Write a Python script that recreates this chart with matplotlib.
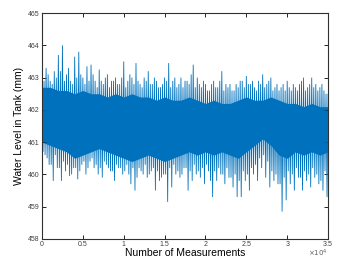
import numpy as np
import matplotlib
matplotlib.use("Agg")
import matplotlib.pyplot as plt

plt.rcParams['font.family'] = ['Liberation Sans', 'DejaVu Sans']

spike_x = np.arange(0, 35001, 500)
top_spikes = [463.0, 463.3, 462.9, 463.2, 463.7, 464.0, 463.1, 462.9, 463.65, 463.8,
              463.0, 463.35, 463.4, 462.9, 463.25, 462.8, 463.1, 462.9, 463.0, 462.8,
              463.5, 462.9, 463.0, 463.45, 462.8, 463.0, 463.2, 462.8, 462.9, 462.7,
              463.0, 463.45, 462.9, 462.7, 463.0, 462.9, 462.8, 463.4, 463.0, 462.7,
              462.8, 462.6, 462.9, 462.7, 463.2, 462.8, 462.8, 462.6, 462.7, 462.9,
              463.05, 462.8, 462.7, 462.9, 463.1, 462.8, 463.0, 462.7, 462.6, 462.8,
              462.9, 462.6, 462.7, 462.8, 463.0, 462.7, 463.0, 462.8, 462.7, 462.6,
              462.5]
bottom_spikes = [460.6, 460.3, 459.8, 460.2, 459.8, 460.1, 459.95, 460.2, 459.85, 460.3,
                 460.0, 460.4, 460.2, 460.0, 459.9, 460.3, 460.1, 459.8, 460.2, 460.0,
                 460.3, 459.7, 459.5, 460.2, 460.0, 459.9, 460.1, 459.5, 459.8, 460.0,
                 459.15, 459.6, 460.0, 459.9, 460.2, 459.5, 459.8, 460.0, 459.9, 459.7,
                 460.1, 459.3, 459.8, 460.0, 459.7, 459.9, 459.6, 459.3, 459.3, 459.8,
                 459.5, 460.0, 459.8, 460.2, 459.9, 459.6, 459.8, 459.7, 458.85, 459.2,
                 459.7, 459.5, 459.9, 459.5, 459.8, 459.6, 459.9, 459.7, 459.5, 459.3,
                 459.9]
# medium spikes in between
top_mid = [462.9, 463.1, 462.8, 463.0, 463.2, 462.9, 463.3, 462.8, 463.0, 463.1,
           462.8, 462.9, 463.1, 462.7, 462.9, 463.0, 462.7, 462.9, 462.8, 463.0,
           462.7, 463.1, 462.8, 462.9, 462.7, 462.9, 462.8, 463.0, 462.7, 462.8,
           462.9, 462.7, 463.0, 462.8, 462.7, 462.9, 463.1, 462.7, 462.8, 462.9,
           462.6, 462.8, 462.7, 462.9, 462.6, 462.7, 462.6, 462.8, 462.9, 462.7,
           462.8, 462.9, 462.6, 462.8, 462.7, 462.9, 462.6, 462.8, 462.7, 462.6,
           462.7, 462.8, 462.6, 462.9, 462.6, 462.8, 462.7, 462.6, 462.8, 462.5,
           462.6]
bottom_mid = [460.7, 460.5, 460.3, 460.6, 460.2, 460.4, 460.3, 460.0, 460.2, 460.1,
              460.4, 460.2, 460.5, 460.3, 460.2, 460.4, 460.2, 460.1, 460.3, 460.2,
              460.1, 460.0, 460.2, 459.9, 460.1, 460.3, 460.0, 460.2, 460.1, 459.9,
              460.0, 460.2, 460.3, 460.1, 460.0, 460.2, 460.1, 460.3, 460.1, 460.2,
              460.3, 459.8, 460.1, 460.2, 460.0, 460.2, 459.9, 460.0, 459.8, 460.1,
              460.0, 460.2, 460.3, 460.5, 460.6, 460.4, 460.1, 460.0, 459.7, 459.9,
              460.1, 460.0, 460.2, 459.9, 460.1, 460.0, 460.2, 460.0, 459.8, 460.1,
              460.2]

# dense core of the signal, every 1000 measurements
core_x = np.arange(0, 35001, 1000)
core_top = [462.7, 462.7, 462.6, 462.6, 462.5, 462.6, 462.5, 462.5, 462.4, 462.5,
            462.4, 462.5, 462.4, 462.4, 462.3, 462.4, 462.3, 462.3, 462.4, 462.3,
            462.2, 462.3, 462.2, 462.2, 462.3, 462.4, 462.3, 462.3, 462.4, 462.3,
            462.2, 462.2, 462.1, 462.2, 462.1, 462.1]
core_bottom = [461.0, 460.9, 460.8, 460.7, 460.5, 460.6, 460.7, 460.8, 460.7, 460.6,
               460.5, 460.4, 460.5, 460.6, 460.5, 460.4, 460.5, 460.6, 460.7, 460.6,
               460.7, 460.6, 460.7, 460.6, 460.5, 460.7, 460.9, 461.1, 460.9, 460.6,
               460.5, 460.7, 460.6, 460.7, 460.6, 460.7]

blue = '#0072BD'

fig = plt.figure(figsize=(3.48, 2.63), dpi=100)
ax = fig.add_axes([0.1207, 0.0913, 0.822, 0.859])

# zigzag line: top spike, lower mid, upper mid, bottom spike
n = len(spike_x)
zx = np.empty(4 * n)
zy = np.empty(4 * n)
zx[0::4] = spike_x
zx[1::4] = spike_x + 125
zx[2::4] = spike_x + 250
zx[3::4] = spike_x + 375
zy[0::4] = top_spikes
zy[1::4] = bottom_mid
zy[2::4] = top_mid
zy[3::4] = bottom_spikes
ax.fill_between(core_x, core_bottom, core_top, color=blue, lw=0)
ax.plot(zx, zy, color=blue, lw=0.6, solid_joinstyle='miter')

ax.set_xlim(0, 35000)
ax.set_ylim(458, 465)
ax.set_xticks(np.arange(0, 35001, 5000))
ax.set_xticklabels(['0', '0.5', '1', '1.5', '2', '2.5', '3', '3.5'])
ax.set_yticks(np.arange(458, 466, 1))
ax.tick_params(direction='in', top=True, right=True, length=3, width=0.6,
               labelsize=5, labelcolor='#404040', pad=1.5)
ax.text(1.0, -0.062, r'$\times10^4$', transform=ax.transAxes, ha='right',
        va='center', fontsize=5, color='#606060')
for s in ax.spines.values():
    s.set_linewidth(0.8)
    s.set_color('#303030')

ax.set_xlabel('Number of Measurements', fontsize=7.5, labelpad=0)
ax.set_ylabel('Water Level in Tank (mm)', fontsize=7.5, labelpad=3)

fig.savefig('out.png', dpi=100)
